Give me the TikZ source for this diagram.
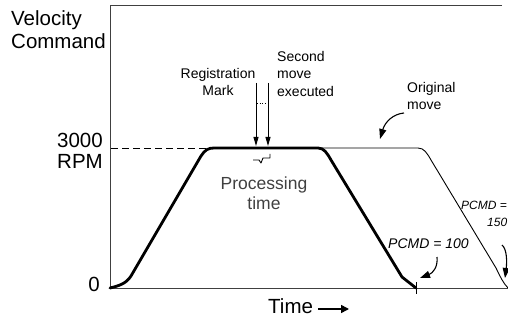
\documentclass[tikz,border=0pt]{standalone}
\usepackage{fontspec}
\setmainfont{Liberation Sans}
\usetikzlibrary{arrows.meta}
\begin{document}
\begin{tikzpicture}[x=1pt,y=-1pt,
  axisline/.style={draw=black!75,line width=0.9pt},
  bigtext/.style={font=\fontsize{20.5}{23}\selectfont,inner sep=0pt},
  labeltext/.style={font=\fontsize{14}{17.5}\selectfont,inner sep=0pt},
  pcmdtext/.style={font=\fontsize{14}{17.5}\selectfont\itshape,inner sep=0pt},
  pcmdsmall/.style={font=\fontsize{12}{17}\selectfont\itshape,inner sep=0pt},
  proctext/.style={font=\fontsize{17.5}{20}\selectfont,text=black!75,inner sep=0pt},
  thickmove/.style={line width=2.8pt,line join=round,line cap=round},
  thinmove/.style={line width=0.9pt,line join=round},
  pointer/.style={line width=0.9pt,-{Triangle[length=9pt,width=5pt]}},
  curvedpointer/.style={line width=1.1pt,-{Triangle[length=10pt,width=7pt]}}]
\useasboundingbox (0,0) rectangle (508,320);

% frame and axes
\coordinate (orig) at (110,288);
\coordinate (ytop) at (110,5);
\coordinate (frameright) at (502,5);
\coordinate (xend) at (508,288);
\draw[axisline] (frameright) -- (ytop) -- (orig) -- (xend);

% axis labels
\node[bigtext,align=left,anchor=north west] (vlabel) at (11,10) {Velocity\\Command};
\node[bigtext,anchor=east] (rpmnum) at (103,140) {3000};
\node[bigtext,anchor=east] (rpmunit) at (103,161) {RPM};
\node[bigtext,anchor=east] (zero) at (100,284) {0};
\node[bigtext,anchor=west] (timelbl) at (268,306) {Time};
\coordinate (tarrowend) at (349,309);
\draw[line width=1.6pt,-{Triangle[length=8pt,width=8pt]}] (timelbl.east |- tarrowend) ++(5,0) -- (tarrowend);

% 3000 RPM reference level
\coordinate (lvlstart) at (111,148);
\coordinate (lvlend) at (206,148);
\draw[line width=0.9pt,dash pattern=on 7pt off 4pt] (lvlstart) -- (lvlend);

% original move (thin)
\draw[thinmove] (318,148) -- (418,148)
  .. controls (424,148) and (427,153) .. (431,160)
  -- (496,268)
  .. controls (500,276) and (503,283) .. (508,288);

% executed move (thick)
\draw[thickmove] (orig)
  .. controls (118,286) and (126,284) .. (131,276)
  -- (201,156)
  .. controls (205,150) and (208,148) .. (214,148)
  -- (318,148)
  .. controls (324,148) and (327,153) .. (331,160)
  -- (402,277)
  -- (416,288);

% end-of-move tick
\coordinate (ticktop) at (416,282);
\coordinate (tickbot) at (416,294);
\draw[line width=0.9pt] (ticktop) -- (tickbot);

% registration and second-move markers
\node[labeltext,align=center] (regmark) at (218,82) {Registration\\Mark};
\node[labeltext,align=left,anchor=north west] (second) at (277,51) {Second\\move\\executed};
\coordinate (regtop) at (256,83);
\coordinate (regtip) at (256,146);
\coordinate (sectop) at (268,83);
\coordinate (sectip) at (268,146);
\draw[pointer] (regtop) -- (regtip);
\draw[pointer] (sectop) -- (sectip);
\coordinate (dotl) at (257,103);
\coordinate (dotr) at (267,103);
\draw[line width=0.7pt,dotted] (dotl) -- (dotr);

% processing time brace
\coordinate (bracel) at (253,160);
\coordinate (bracer) at (270,154);
\draw[line width=0.9pt,line join=round] (bracel) -- (259,160) -- (261,163) -- (263,158) -- (270,158) -- (bracer);
\node[proctext,align=center] (proc) at (264,193) {Processing\\time};

% original move label
\node[labeltext,align=left,anchor=north west] (origlbl) at (407,82) {Original\\move};
\coordinate (origfrom) at (404,113);
\coordinate (origto) at (380,139);
\draw[curvedpointer] (origfrom) .. controls (393,114) and (385,122) .. (origto);

% PCMD labels
\node[pcmdtext,anchor=west] (pcmda) at (388,244) {PCMD = 100};
\coordinate (pafrom) at (437,257);
\coordinate (pato) at (420,278);
\draw[curvedpointer] (pafrom) .. controls (438,267) and (433,273) .. (pato);

\node[pcmdsmall,anchor=west] (pcmdb) at (461,205) {PCMD =};
\node[pcmdsmall,anchor=west] (pcmdbval) at (487,222) {150};
\coordinate (pbfrom) at (502,245);
\coordinate (pbto) at (505,278);
\draw[curvedpointer] (pbfrom) .. controls (507,249) and (507,262) .. (pbto);
\end{tikzpicture}
\end{document}
